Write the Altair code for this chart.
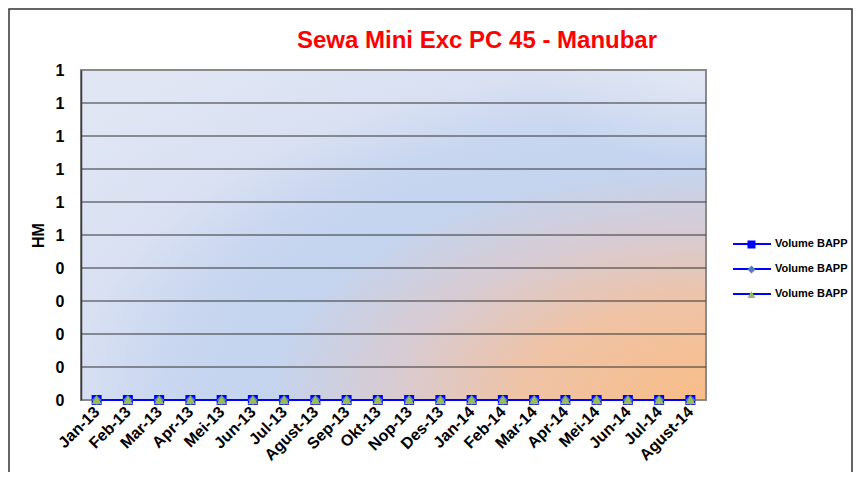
import altair as alt
import pandas as pd
from urllib.parse import quote

months = ["Jan-13", "Feb-13", "Mar-13", "Apr-13", "Mei-13", "Jun-13", "Jul-13",
          "Agust-13", "Sep-13", "Okt-13", "Nop-13", "Des-13", "Jan-14", "Feb-14",
          "Mar-14", "Apr-14", "Mei-14", "Jun-14", "Jul-14", "Agust-14"]
# three series, all labelled "Volume BAPP" (trailing spaces keep them distinct)
series = ["Volume BAPP", "Volume BAPP ", "Volume BAPP  "]
vol_1 = [0, 0, 0, 0, 0, 0, 0, 0, 0, 0, 0, 0, 0, 0, 0, 0, 0, 0, 0, 0]
vol_2 = [0, 0, 0, 0, 0, 0, 0, 0, 0, 0, 0, 0, 0, 0, 0, 0, 0, 0, 0, 0]
vol_3 = [0, 0, 0, 0, 0, 0, 0, 0, 0, 0, 0, 0, 0, 0, 0, 0, 0, 0, 0, 0]
y_ticks = [0, 0.1, 0.2, 0.3, 0.4, 0.5, 0.6, 0.7, 0.8, 0.9, 1.0]
grid_vals = [0.1, 0.2, 0.3, 0.4, 0.5, 0.6, 0.7, 0.8, 0.9]
title_text = "Sewa Mini Exc PC 45 - Manubar"

rows = []
for name, vals in zip(series, [vol_1, vol_2, vol_3]):
    for m, v in zip(months, vals):
        rows.append({"month": m, "series": name, "value": v})
df = pd.DataFrame(rows)

W, H = 625, 330
FONT = "Liberation Sans"

x_enc = alt.X("month:N", sort=months, scale=alt.Scale(domain=months), title=None,
              axis=alt.Axis(labelAngle=315, labelAlign="right", labelBaseline="middle",
                            labelPadding=9, labelFont=FONT, labelFontSize=16,
                            labelFontWeight="bold", labelColor="black", ticks=False,
                            labelOverlap=False, domain=False, grid=False, zindex=1))
y_axis = alt.Axis(values=y_ticks, labelExpr="datum.value >= 0.45 ? '1' : '0'",
                  labelFont=FONT, labelFontSize=16, labelFontWeight="bold",
                  labelColor="black", labelPadding=17, ticks=False, grid=False,
                  labelOverlap=False, labelFlush=False,
                  domain=True, domainColor="#3a3a3a", domainWidth=1.5,
                  titleFont=FONT, titleFontSize=16, titleFontWeight="bold",
                  titleColor="black", titleX=-43, titleY=H / 2,
                  titleBaseline="middle", titleAngle=270, zindex=1)
y_scale = alt.Scale(domain=[0, 1], nice=False, zero=True)
y_enc = alt.Y("value:Q", scale=y_scale, title="HM", axis=y_axis)

# elliptical radial fill of the plot area (Excel style gradient)
stops = [(0.0, "#f8bd88"), (0.23, "#efc3a6"), (0.385, "#d8cbd2"), (0.54, "#c4d4ef"),
         (0.66, "#c8d6f0"), (0.78, "#d8e0f2"), (1.0, "#e0e6f4")]
stop_xml = "".join(f"<stop offset='{o}' stop-color='{c}'/>" for o, c in stops)
svg = ("<svg xmlns='http://www.w3.org/2000/svg' width='625' height='330' "
       "viewBox='0 0 100 100' preserveAspectRatio='none'><defs>"
       "<radialGradient id='g' cx='1' cy='1' r='1.3' gradientUnits='objectBoundingBox'>"
       + stop_xml + "</radialGradient>"
       "<radialGradient id='h' cx='1' cy='0' r='0.28' gradientUnits='objectBoundingBox'>"
       "<stop offset='0' stop-color='#e4e9f4' stop-opacity='0.85'/>"
       "<stop offset='1' stop-color='#e4e9f4' stop-opacity='0'/></radialGradient></defs>"
       "<rect x='0' y='0' width='100' height='100' fill='url(#g)'/>"
       "<rect x='0' y='0' width='100' height='100' fill='url(#h)'/></svg>")
bg_url = "data:image/svg+xml;charset=utf-8," + quote(svg)

base_one = alt.Chart(pd.DataFrame({"k": [0]}))

bg = base_one.mark_image(width=W, height=H, aspect=False, align="left",
                         baseline="top").encode(
    x=alt.value(0), y=alt.value(0), url=alt.value(bg_url))

border = base_one.mark_rect(fill="transparent", stroke="#8a8a8a", strokeWidth=2).encode(
    x=alt.value(0), x2=alt.value(W), y=alt.value(0), y2=alt.value(H))

grid = alt.Chart(pd.DataFrame({"g": grid_vals})).mark_rule(
    color="#333333", strokeWidth=1).encode(y=alt.Y("g:Q", scale=y_scale, title="HM",
                                                   axis=y_axis))

leg_common = dict(orient="none", title=None, labelFont=FONT, labelFontSize=11,
                  labelFontWeight="bold", labelColor="black")

line = alt.Chart(df).mark_line(strokeWidth=2).encode(
    x=x_enc, y=y_enc,
    stroke=alt.Stroke("series:N",
                      scale=alt.Scale(domain=series[::-1], range=["#0000ff"] * 3),
                      legend=alt.Legend(legendX=651, legendY=154, symbolType="stroke",
                                        symbolSize=1444, symbolStrokeWidth=2,
                                        labelOffset=3, rowPadding=-13, **leg_common)),
    detail="series:N")

pt_legend = alt.Legend(legendX=665, legendY=169, symbolSize=64, labelExpr="''",
                       rowPadding=13, labelOffset=0, symbolStrokeWidth=0, **leg_common)
points = alt.Chart(df).mark_point(filled=True, size=100, opacity=1).encode(
    x=x_enc, y=y_enc,
    shape=alt.Shape("series:N", scale=alt.Scale(domain=series,
                    range=["square", "diamond", "triangle-up"]), legend=pt_legend),
    fill=alt.Fill("series:N", scale=alt.Scale(domain=series,
                  range=["#0000ff", "#4f81bd", "#9bbb59"]), legend=pt_legend))

title = base_one.mark_text(text=title_text, font=FONT, fontSize=24, fontWeight="bold",
                           color="#ff0000", align="center", baseline="alphabetic").encode(
    x=alt.value(396), y=alt.value(-22))

frame = base_one.mark_rect(fill="transparent", stroke="#333333", strokeWidth=1.5).encode(
    x=alt.value(-72), x2=alt.value(771), y=alt.value(-61), y2=alt.value(H + 120))

chart = alt.layer(bg, border, grid, line, points, title, frame).properties(
    width=W, height=H,
    autosize=alt.AutoSizeParams(type="none"),
    padding={"left": 73, "top": 62, "right": 148, "bottom": 72},
).configure_view(stroke=None).configure(background="white")

chart.save("out.html", embed_options={"renderer": "svg", "actions": False})
